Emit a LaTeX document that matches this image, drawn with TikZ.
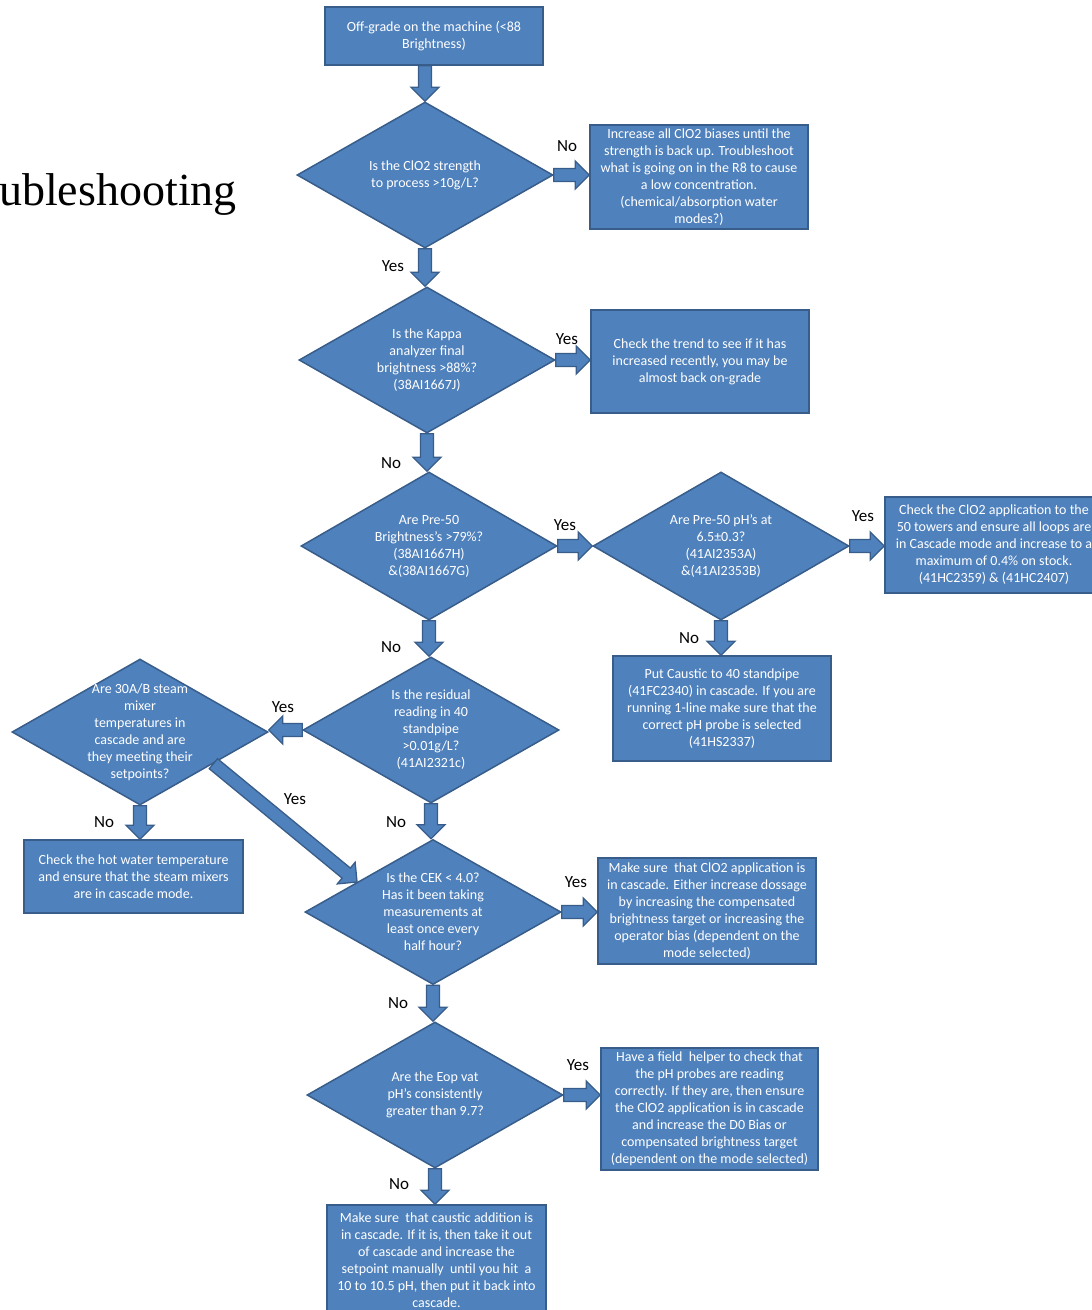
\documentclass[tikz,border=0pt]{standalone}
\usepackage{fontspec}
\setmainfont{Carlito}
\newfontfamily\titlefont{Liberation Serif}
\usetikzlibrary{calc,shapes.geometric}
\definecolor{fillc}{HTML}{4F81BD}
\definecolor{linec}{HTML}{385D8A}
\begin{document}
\begin{tikzpicture}[x=1pt,y=-1pt,
  box/.style={rectangle, fill=fillc, draw=linec, line width=1.5pt, inner sep=0pt,
    minimum width=218pt, text=white, align=center, font=\fontsize{14}{17}\selectfont},
  dia/.style={diamond, fill=fillc, draw=linec, line width=1.5pt, inner sep=0pt,
    minimum width=256pt, minimum height=146pt},
  dtxt/.style={text=white, align=center, inner sep=0pt, font=\fontsize{14}{17}\selectfont},
  lab/.style={inner sep=0pt, font=\fontsize{17}{20}\selectfont},
  blk/.style={fill=fillc, draw=linec, line width=1.3pt, line join=miter,
    to path={let \p1=($(\tikztotarget)!14pt!(\tikztostart)$) in
      ($(\tikztostart)!6.5pt!90:(\tikztotarget)$) -- ($(\p1)!6.5pt!90:(\tikztotarget)$)
      -- ($(\p1)!14pt!90:(\tikztotarget)$) -- (\tikztotarget)
      -- ($(\p1)!14pt!-90:(\tikztotarget)$) -- ($(\p1)!6.5pt!-90:(\tikztotarget)$)
      -- ($(\tikztostart)!6.5pt!-90:(\tikztotarget)$) -- cycle}}]
\useasboundingbox (0,0) rectangle (1092,1310);
\clip (0,0) rectangle (1092,1310);

\node[anchor=base east, inner sep=0pt, font=\titlefont\fontsize{46}{52}\selectfont] (title) at (237,205) {ubleshooting};

% boxes
\node[box, minimum height=58pt] (b1) at (434,36) {Off-grade on the machine (<88\\Brightness)};
\node[box, minimum height=104pt] (b2) at (699,177) {Increase all ClO2 biases until the\\strength is back up. Troubleshoot\\what is going on in the R8 to cause\\a low concentration.\\(chemical/absorption water\\modes?)};
\node[box, minimum height=103pt] (b3) at (700,361.5) {Check the trend to see if it has\\increased recently, you may be\\almost back on-grade};
\node[box, minimum height=96pt] (b4) at (994,545) {Check the ClO2 application to the\\50 towers and ensure all loops are\\in Cascade mode and increase to a\\maximum of 0.4\% on stock.\\(41HC2359) \& (41HC2407)};
\node[box, minimum height=105pt] (b5) at (722,708.5) {Put Caustic to 40 standpipe\\(41FC2340) in cascade. If you are\\running 1-line make sure that the\\correct pH probe is selected\\(41HS2337)};
\node[box, minimum height=73pt, minimum width=219pt] (b6) at (133.5,876.5) {Check the hot water temperature\\and ensure that the steam mixers\\are in cascade mode.};
\node[box, minimum height=106pt] (b7) at (707,911) {Make sure\ \ that ClO2 application is\\in cascade. Either increase dossage\\by increasing the compensated\\brightness target or increasing the\\operator bias (dependent on the\\mode selected)};
\node[box, minimum height=122pt, minimum width=217pt] (b8) at (709.5,1109) {Have a field\ \ helper to check that\\the pH probes are reading\\correctly. If they are, then ensure\\the ClO2 application is in cascade\\and increase the D0 Bias or\\compensated brightness target\\(dependent on the mode selected)};
\node[box, minimum height=110pt, minimum width=219pt] (b9) at (436.5,1260) {Make sure\ \ that caustic addition is\\in cascade. If it is, then take it out\\of cascade and increase the\\setpoint manually\ \ until you hit\ \ a\\10 to 10.5 pH, then put it back into\\cascade.};

% diamonds
\node[dia] (d1) at (425,175) {};
\node[dtxt] (t1) at (d1.center) {Is the ClO2 strength\\to process >10g/L?};
\node[dia] (d2) at (427,360) {};
\node[dtxt] (t2) at (d2.center) {Is the Kappa\\analyzer final\\brightness >88\%?\\(38AI1667J)};
\node[dia, minimum height=148pt] (d3) at (429,546) {};
\node[dtxt] (t3) at (d3.center) {Are Pre-50\\Brightness's >79\%?\\(38AI1667H)\\\&(38AI1667G)};
\node[dia, minimum height=148pt] (d4) at (721,546) {};
\node[dtxt] (t4) at (d4.center) {Are Pre-50 pH's at\\6.5±0.3?\\(41AI2353A)\\\&(41AI2353B)};
\node[dia] (d5) at (431,730) {};
\node[dtxt] (t5) at (d5.center) {Is the residual\\reading in 40\\standpipe\\>0.01g/L?\\(41AI2321c)};
\node[dia] (d6) at (140,732) {};
\node[dtxt] (t6) at (d6.center) {Are 30A/B steam\\mixer\\temperatures in\\cascade and are\\they meeting their\\setpoints?};
\node[dia, minimum height=145pt] (d7) at (433,912) {};
\node[dtxt] (t7) at (d7.center) {Is the CEK < 4.0?\\Has it been taking\\measurements at\\least once every\\half hour?};
\node[dia] (d8) at (435,1095) {};
\node[dtxt] (t8) at (d8.center) {Are the Eop vat\\pH's consistently\\greater than 9.7?};

\coordinate (s6) at ($(d6.south)!0.57!(d6.east)$);
\coordinate (e7) at ($(d7.west)!0.41!(d7.north)$);

% connectors
\draw[blk] (b1.south -| d1.north) to (d1.north);
\draw[blk] (d1.east) to (d1.east -| b2.west);
\draw[blk] (d1.south) to (d1.south |- d2.north);
\draw[blk] (d2.east) to (d2.east -| b3.west);
\draw[blk] (d2.south) to (d2.south |- d3.north);
\draw[blk] (d3.east) to (d4.west);
\draw[blk] (d4.east) to (d4.east -| b4.west);
\draw[blk] (d4.south) to (d4.south |- b5.north);
\draw[blk] (d3.south) to (d3.south |- d5.north);
\draw[blk] (d5.west) to (d5.west -| d6.east);
\draw[blk] (d6.south) to (d6.south |- b6.north);
\draw[blk] (s6) to (e7);
\draw[blk] (d5.south) to (d5.south |- d7.north);
\draw[blk] (d7.east) to (d7.east -| b7.west);
\draw[blk] (d7.south) to (d7.south |- d8.north);
\draw[blk] (d8.east) to (d8.east -| b8.west);
\draw[blk] (d8.south) to (d8.south |- b9.north);

% labels
\node[lab] (l1) at (567,146) {No};
\node[lab] (l2) at (393,266) {Yes};
\node[lab] (l3) at (567,339) {Yes};
\node[lab] (l4) at (391,463) {No};
\node[lab] (l5) at (565,525) {Yes};
\node[lab] (l6) at (863,516) {Yes};
\node[lab] (l7) at (689,638) {No};
\node[lab] (l8) at (391,647) {No};
\node[lab] (l9) at (283,707) {Yes};
\node[lab] (l10) at (104,822) {No};
\node[lab] (l11) at (295,799) {Yes};
\node[lab] (l12) at (396,822) {No};
\node[lab] (l13) at (576,882) {Yes};
\node[lab] (l14) at (398,1003) {No};
\node[lab] (l15) at (578,1065) {Yes};
\node[lab] (l16) at (399,1184) {No};
\end{tikzpicture}
\end{document}
